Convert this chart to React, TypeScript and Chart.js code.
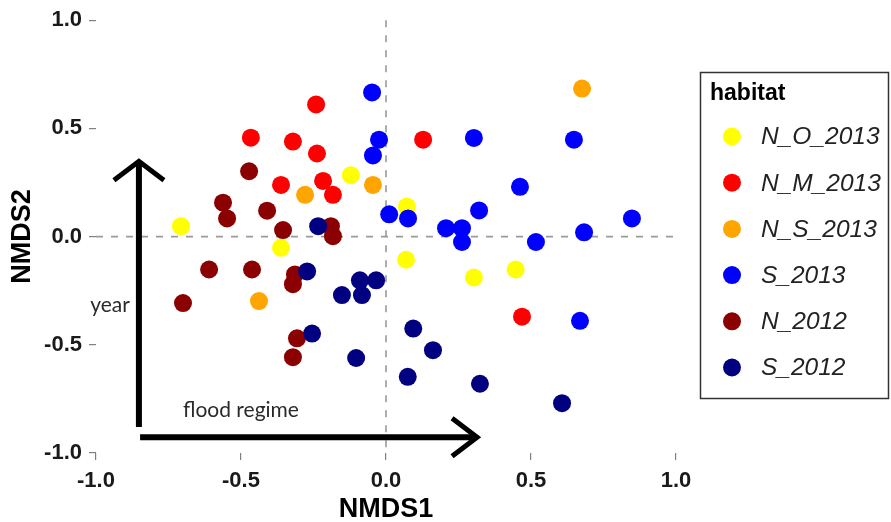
import React, { useEffect, useRef } from "react";
import { Chart, registerables } from "chart.js";

Chart.register(...registerables);

// ---- data ----
const habitats = ["N_O_2013", "N_M_2013", "N_S_2013", "S_2013", "N_2012", "S_2012"];
const habitatColors = ["#FFFF00", "#FF0000", "#FFA500", "#0000FF", "#8B0000", "#000080"];

const nO2013X = [-0.707, -0.362, -0.121, 0.072, 0.069, 0.303, 0.447];
const nO2013Y = [0.048, -0.052, 0.284, 0.139, -0.107, -0.189, -0.152];

const nM2013X = [-0.241, -0.466, -0.321, -0.238, -0.217, -0.362, -0.183, 0.128, 0.469];
const nM2013Y = [0.611, 0.457, 0.439, 0.384, 0.257, 0.239, 0.193, 0.448, -0.37];

const nS2013X = [-0.279, -0.045, 0.676, -0.438];
const nS2013Y = [0.193, 0.239, 0.684, -0.298];

const s2013X = [-0.048, -0.024, -0.045, 0.011, 0.076, 0.303, 0.648, 0.462, 0.321, 0.848, 0.207, 0.262, 0.262, 0.517, 0.683, 0.669];
const s2013Y = [0.666, 0.448, 0.375, 0.103, 0.084, 0.456, 0.448, 0.23, 0.121, 0.084, 0.039, 0.039, -0.025, -0.025, 0.02, -0.389];

const n2012X = [-0.472, -0.562, -0.548, -0.41, -0.355, -0.19, -0.183, -0.61, -0.462, -0.314, -0.321, -0.7, -0.307, -0.321];
const n2012Y = [0.302, 0.157, 0.084, 0.12, 0.03, 0.048, 0.002, -0.152, -0.152, -0.175, -0.22, -0.307, -0.47, -0.557];

const s2012X = [-0.234, -0.272, -0.09, -0.034, -0.152, -0.083, -0.255, -0.103, 0.094, 0.162, 0.075, 0.324, 0.607];
const s2012Y = [0.048, -0.161, -0.202, -0.202, -0.27, -0.27, -0.448, -0.561, -0.425, -0.525, -0.648, -0.68, -0.77];

const seriesX = [nO2013X, nM2013X, nS2013X, s2013X, n2012X, s2012X];
const seriesY = [nO2013Y, nM2013Y, nS2013Y, s2013Y, n2012Y, s2012Y];

const xTicks = [-1, -0.5, 0, 0.5, 1];
const yTicks = [-1, -0.5, 0, 0.5, 1];
const refLinesX = [0];
const refLinesY = [0];

// annotation arrows (data coords): [x0, y0, x1, y1], arrow head at (x1, y1)
const yearArrow = [-0.852, -0.88, -0.852, 0.348];
const floodArrow = [-0.848, -0.927, 0.314, -0.927];
const annotationTexts = ["year", "flood regime"];
const annotationX = [-0.883, -0.7]; // year: right edge, flood: left edge
const annotationY = [-0.316, -0.802];

const FONT = "'Liberation Sans', Arial, sans-serif";

const overlayPlugin = {
  id: "overlay",
  beforeDatasetsDraw(chart: any) {
    const { ctx, chartArea, scales } = chart;
    const xs = scales.x;
    const ys = scales.y;
    ctx.save();
    ctx.strokeStyle = "#9a9a9a";
    ctx.lineWidth = 1.6;
    ctx.setLineDash([7, 8]);
    refLinesX.forEach((v) => {
      const px = xs.getPixelForValue(v);
      ctx.beginPath();
      ctx.moveTo(px, chartArea.top);
      ctx.lineTo(px, chartArea.bottom);
      ctx.stroke();
    });
    refLinesY.forEach((v) => {
      const py = ys.getPixelForValue(v);
      ctx.beginPath();
      ctx.moveTo(chartArea.left, py);
      ctx.lineTo(chartArea.right, py);
      ctx.stroke();
    });
    ctx.restore();
  },
  afterDatasetsDraw(chart: any) {
    const { ctx, scales } = chart;
    const xs = scales.x;
    const ys = scales.y;
    const drawArrow = (a: number[], headAlong: number, headAcross: number) => {
      const x0 = xs.getPixelForValue(a[0]);
      const y0 = ys.getPixelForValue(a[1]);
      const x1 = xs.getPixelForValue(a[2]);
      const y1 = ys.getPixelForValue(a[3]);
      const ang = Math.atan2(y1 - y0, x1 - x0);
      ctx.save();
      ctx.strokeStyle = "#000";
      ctx.lineWidth = 6;
      ctx.lineCap = "butt";
      ctx.beginPath();
      ctx.moveTo(x0, y0);
      ctx.lineTo(x1 - Math.cos(ang) * 2, y1 - Math.sin(ang) * 2);
      ctx.stroke();
      ctx.lineWidth = 5;
      ctx.lineJoin = "miter";
      const bx = x1 - Math.cos(ang) * headAlong;
      const by = y1 - Math.sin(ang) * headAlong;
      const px = -Math.sin(ang) * headAcross;
      const py = Math.cos(ang) * headAcross;
      ctx.beginPath();
      ctx.moveTo(bx + px, by + py);
      ctx.lineTo(x1, y1);
      ctx.lineTo(bx - px, by - py);
      ctx.stroke();
      ctx.restore();
    };
    drawArrow(yearArrow, 19, 25);
    drawArrow(floodArrow, 25, 19);

    ctx.save();
    ctx.fillStyle = "#2a2a2a";
    ctx.font = "21px Lato, 'Open Sans', sans-serif";
    ctx.textBaseline = "middle";
    annotationTexts.forEach((t, i) => {
      ctx.textAlign = i === 0 ? "right" : "left";
      ctx.fillText(t, xs.getPixelForValue(annotationX[i]), ys.getPixelForValue(annotationY[i]));
    });
    ctx.restore();
  },
  afterDraw(chart: any) {
    const { ctx } = chart;
    ctx.save();
    // legend box
    ctx.strokeStyle = "#333";
    ctx.lineWidth = 1.5;
    ctx.strokeRect(700.5, 72.5, 188, 326);
    ctx.fillStyle = "#000";
    ctx.font = `bold 23px ${FONT}`;
    ctx.textBaseline = "alphabetic";
    ctx.textAlign = "left";
    ctx.fillText("habitat", 710, 100);
    chart.data.datasets.forEach((ds: any, i: number) => {
      const cy = 136.5 + i * 46.2;
      ctx.fillStyle = ds.backgroundColor;
      ctx.beginPath();
      ctx.arc(732, cy, 9, 0, Math.PI * 2);
      ctx.fill();
      ctx.fillStyle = "#222";
      ctx.font = `italic 24.5px ${FONT}`;
      ctx.textBaseline = "middle";
      ctx.fillText(ds.label, 761, cy + 1);
    });
    ctx.restore();
  },
};

export default function App() {
  const canvasRef = useRef<HTMLCanvasElement | null>(null);

  useEffect(() => {
    document.body.style.margin = "0";
    const canvas = canvasRef.current;
    if (!canvas) return;
    const datasets = habitats.map((h, i) => ({
      label: h,
      data: seriesX[i].map((x, j) => ({ x, y: seriesY[i][j] })),
      backgroundColor: habitatColors[i],
      borderColor: habitatColors[i],
      borderWidth: 0,
      pointRadius: 9,
      pointHoverRadius: 9,
      order: habitats.length - 1 - i,
    }));

    const tickFont = { family: FONT, size: 22, weight: "bold" as const };
    const titleFont = { family: FONT, size: 27, weight: "bold" as const, lineHeight: 1 };

    const chart = new Chart(canvas, {
      type: "scatter",
      data: { datasets },
      options: {
        responsive: false,
        animation: false,
        events: [],
        layout: { padding: { top: 14, right: 215, left: 0, bottom: 0 } },
        plugins: { legend: { display: false }, tooltip: { enabled: false } },
        scales: {
          x: {
            type: "linear",
            min: -1,
            max: 1,
            afterBuildTicks: (axis: any) => {
              axis.ticks = xTicks.map((v) => ({ value: v }));
            },
            afterFit: (axis: any) => {
              axis.height = 69;
            },
            grid: { drawOnChartArea: false, drawTicks: true, tickLength: 7, color: "#808080", lineWidth: 1.2 },
            border: { display: false },
            ticks: {
              font: tickFont,
              color: "#1a1a1a",
              padding: 8,
              maxRotation: 0,
              callback: (v: any) => Number(v).toFixed(1),
            },
            title: { display: true, text: "NMDS1", font: titleFont, color: "#000", padding: { top: 0, bottom: -1 } },
          },
          y: {
            type: "linear",
            min: -1,
            max: 1,
            afterBuildTicks: (axis: any) => {
              axis.ticks = yTicks.map((v) => ({ value: v }));
            },
            afterFit: (axis: any) => {
              axis.width = 96;
            },
            grid: { drawOnChartArea: false, drawTicks: true, tickLength: 7, color: "#808080", lineWidth: 1.2 },
            border: { display: false },
            ticks: {
              font: tickFont,
              color: "#1a1a1a",
              padding: 7,
              callback: (v: any) => Number(v).toFixed(1),
            },
            title: { display: true, text: "NMDS2", font: titleFont, color: "#000", padding: { top: 9, bottom: 0 } },
          },
        },
      },
      plugins: [overlayPlugin],
    } as any);

    return () => chart.destroy();
  }, []);

  return (
    <div style={{ width: 891, height: 522, background: "#fff" }}>
      <canvas ref={canvasRef} width={891} height={522} style={{ display: "block" }} />
    </div>
  );
}
